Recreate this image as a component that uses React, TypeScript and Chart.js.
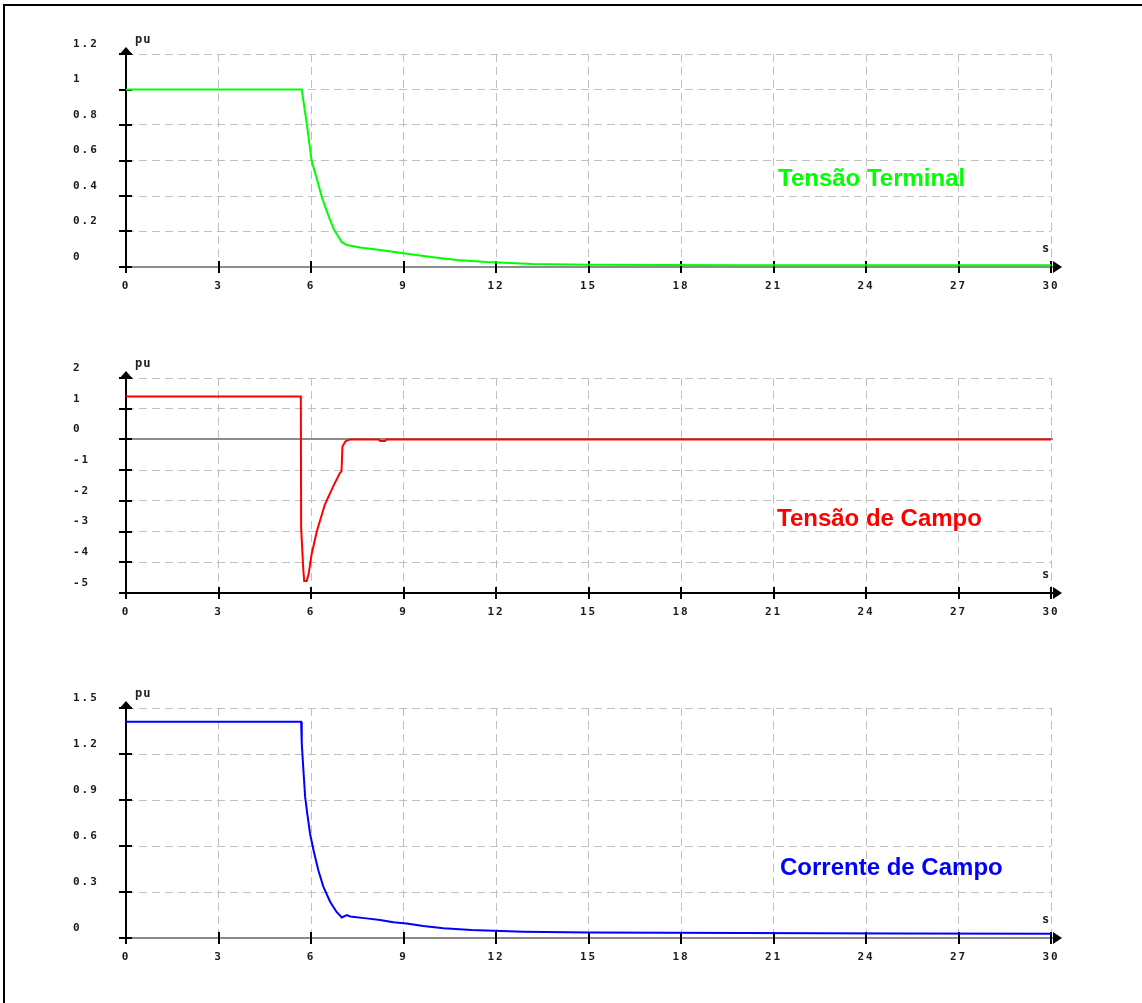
import React, { useEffect, useRef } from 'react';
import { Chart, registerables } from 'chart.js';
Chart.register(...registerables);

// ---- data ----
const xTicks = [0, 3, 6, 9, 12, 15, 18, 21, 24, 27, 30];

const tTerminal = [0, 5.7, 5.86, 6.02, 6.2, 6.35, 6.5, 6.62, 6.75, 6.89, 7.0, 7.16, 7.59, 8.24, 9.0, 9.96, 10.73, 11.7, 13.2, 15, 20, 30];
const vTerminal = [1.0, 1.0, 0.81, 0.6, 0.49, 0.395, 0.32, 0.264, 0.21, 0.17, 0.14, 0.124, 0.11, 0.096, 0.077, 0.055, 0.04, 0.028, 0.017, 0.012, 0.01, 0.01];
const yTicksTerminal = [0, 0.2, 0.4, 0.6, 0.8, 1, 1.2];

const tCampo = [0, 5.67, 5.68, 5.75, 5.78, 5.86, 5.92, 6.02, 6.19, 6.45, 6.72, 6.94, 6.99, 7.02, 7.12, 7.27, 8.2, 8.24, 8.4, 8.45, 30];
const vCampo = [1.4, 1.4, -2.88, -4.23, -4.61, -4.61, -4.4, -3.74, -2.99, -2.12, -1.53, -1.09, -1.04, -0.23, -0.06, 0, 0, -0.05, -0.05, 0, 0];
const yTicksCampo = [-5, -4, -3, -2, -1, 0, 1, 2];

const tCorrente = [0, 5.68, 5.7, 5.75, 5.81, 5.88, 5.97, 6.08, 6.24, 6.4, 6.62, 6.83, 7.0, 7.16, 7.27, 7.8, 8.24, 8.67, 9.1, 9.64, 10.3, 11.2, 12.9, 15, 20, 25, 30];
const vCorrente = [1.41, 1.41, 1.27, 1.107, 0.92, 0.81, 0.68, 0.574, 0.44, 0.335, 0.237, 0.17, 0.134, 0.15, 0.14, 0.128, 0.117, 0.102, 0.095, 0.078, 0.063, 0.052, 0.041, 0.036, 0.033, 0.03, 0.028];
const yTicksCorrente = [0, 0.3, 0.6, 0.9, 1.2, 1.5];

const seriesLabels = ['Tensão Terminal', 'Tensão de Campo', 'Corrente de Campo'];
const yUnit = 'pu';
const xUnit = 's';

// ---- layout ----
const CANVAS_W = 1100;
const PLOT_LEFT = 126;
const PLOT_RIGHT = 1051;
const PLOT_TOP_LOCAL = 54;

const panels = [
  { t: tTerminal, v: vTerminal, yTicks: yTicksTerminal, color: '#00ff00', label: seriesLabels[0], top: 0, h: 300, bottom: 267, labelLeft: 778, labelTop: 166 },
  { t: tCampo, v: vCampo, yTicks: yTicksCampo, color: '#ff0000', label: seriesLabels[1], top: 324, h: 300, bottom: 269, labelLeft: 777, labelTop: 506 },
  { t: tCorrente, v: vCorrente, yTicks: yTicksCorrente, color: '#0000ff', label: seriesLabels[2], top: 654, h: 330, bottom: 284, labelLeft: 780, labelTop: 855 },
];

const tickFont = { family: '"DejaVu Sans Mono", monospace', size: 11, weight: 'bold' };

const axesPlugin = {
  id: 'axesPlugin',
  beforeDraw(chart: any) {
    try { chart.ctx.letterSpacing = '2px'; } catch (e) {}
  },
  beforeDatasetsDraw(chart: any) {
    const { ctx, chartArea: a, scales } = chart;
    const xs = scales.x;
    const ys = scales.y;
    ctx.save();
    try { ctx.letterSpacing = '0px'; } catch (e) {}
    const line = (x1: number, y1: number, x2: number, y2: number) => {
      ctx.beginPath();
      ctx.moveTo(x1, y1);
      ctx.lineTo(x2, y2);
      ctx.stroke();
    };
    ctx.lineWidth = 2;
    ctx.strokeStyle = '#000';
    line(a.left, a.bottom, a.right + 2, a.bottom);
    line(a.left, a.bottom + 1, a.left, a.top - 4);
    // zero line
    const z = Math.round(ys.getPixelForValue(0));
    ctx.strokeStyle = '#8c8c8c';
    line(a.left + 1, z, a.right + 2, z);
    // tick marks
    ctx.strokeStyle = '#000';
    ys.ticks.forEach((tk: any) => {
      const py = Math.round(ys.getPixelForValue(tk.value));
      line(a.left - 7, py, a.left + 6, py);
    });
    xs.ticks.forEach((tk: any) => {
      const px = Math.round(xs.getPixelForValue(tk.value));
      line(px, a.bottom - 6, px, a.bottom + 6);
    });
    // arrows
    ctx.fillStyle = '#000';
    ctx.beginPath();
    ctx.moveTo(a.left, a.top - 7);
    ctx.lineTo(a.left - 7, a.top + 1);
    ctx.lineTo(a.left + 7, a.top + 1);
    ctx.closePath();
    ctx.fill();
    ctx.beginPath();
    ctx.moveTo(a.right + 11, a.bottom);
    ctx.lineTo(a.right + 2, a.bottom - 6);
    ctx.lineTo(a.right + 2, a.bottom + 6);
    ctx.closePath();
    ctx.fill();
    // units
    ctx.font = 'bold 12px "DejaVu Sans Mono", monospace';
    ctx.fillStyle = '#222';
    ctx.textBaseline = 'middle';
    ctx.textAlign = 'left';
    try { ctx.letterSpacing = '1px'; } catch (e) {}
    ctx.fillText(yUnit, a.left + 9, a.top - 14);
    ctx.textAlign = 'center';
    ctx.fillText(xUnit, a.right - 5, a.bottom - 18);
    ctx.restore();
  },
};

function Panel({ p }: { p: any }) {
  const ref = useRef<HTMLCanvasElement>(null);
  useEffect(() => {
    if (!ref.current) return;
    const minY = p.yTicks[0];
    const maxY = p.yTicks[p.yTicks.length - 1];
    const chart = new Chart(ref.current, {
      type: 'line',
      data: {
        datasets: [
          {
            data: p.t.map((x: number, i: number) => ({ x, y: p.v[i] })),
            borderColor: p.color,
            backgroundColor: p.color,
            borderWidth: 2,
            pointRadius: 0,
            tension: 0,
            fill: false,
          },
        ],
      },
      options: {
        responsive: false,
        animation: false,
        devicePixelRatio: 1,
        layout: { padding: { left: 73, right: CANVAS_W - PLOT_RIGHT, top: PLOT_TOP_LOCAL, bottom: 0 } },
        plugins: { legend: { display: false }, tooltip: { enabled: false } },
        scales: {
          x: {
            type: 'linear',
            min: 0,
            max: 30,
            afterBuildTicks: (s: any) => {
              s.ticks = xTicks.map((v) => ({ value: v }));
            },
            afterFit: (s: any) => {
              s.height = p.h - p.bottom;
            },
            grid: {
              color: (c: any) => (c.tick && c.tick.value === 0 ? 'rgba(0,0,0,0)' : '#c0c0c0'),
              lineWidth: 1,
              drawTicks: false,
            },
            border: { display: false, dash: [8, 5] },
            ticks: {
              padding: 13,
              autoSkip: false,
              maxRotation: 0,
              font: tickFont,
              color: '#1a1a1a',
              callback: (v: any) => String(v),
            },
          },
          y: {
            type: 'linear',
            min: minY,
            max: maxY,
            afterBuildTicks: (s: any) => {
              s.ticks = p.yTicks.map((v: number) => ({ value: v }));
            },
            afterFit: (s: any) => {
              s.width = PLOT_LEFT - 73;
            },
            grid: {
              color: (c: any) => (c.tick && (c.tick.value === minY || c.tick.value === 0) ? 'rgba(0,0,0,0)' : '#c0c0c0'),
              lineWidth: 1,
              drawTicks: false,
            },
            border: { display: false, dash: [8, 5] },
            ticks: {
              crossAlign: 'far',
              labelOffset: -10,
              autoSkip: false,
              font: tickFont,
              color: '#1a1a1a',
              callback: (v: any) => String(v),
            },
          },
        },
      },
      plugins: [axesPlugin],
    } as any);
    return () => chart.destroy();
  }, []);
  return (
    <>
      <canvas
        ref={ref}
        width={CANVAS_W}
        height={p.h}
        style={{ position: 'absolute', left: 0, top: p.top, width: CANVAS_W, height: p.h }}
      />
      <div
        style={{
          position: 'absolute',
          left: p.labelLeft,
          top: p.labelTop,
          color: p.color,
          font: 'bold 24px "Liberation Sans", Arial, sans-serif',
          lineHeight: '24px',
          whiteSpace: 'nowrap',
        }}
      >
        {p.label}
      </div>
    </>
  );
}

export default function App() {
  return (
    <div
      style={{
        position: 'absolute',
        left: 0,
        top: 0,
        width: 1142,
        height: 1003,
        overflow: 'hidden',
        background: '#fff',
      }}
    >
      <div
        style={{
          position: 'absolute',
          left: 3,
          top: 4,
          width: 1300,
          height: 1200,
          border: '2px solid #000',
        }}
      />
      {panels.map((p, i) => (
        <Panel key={i} p={p} />
      ))}
    </div>
  );
}
